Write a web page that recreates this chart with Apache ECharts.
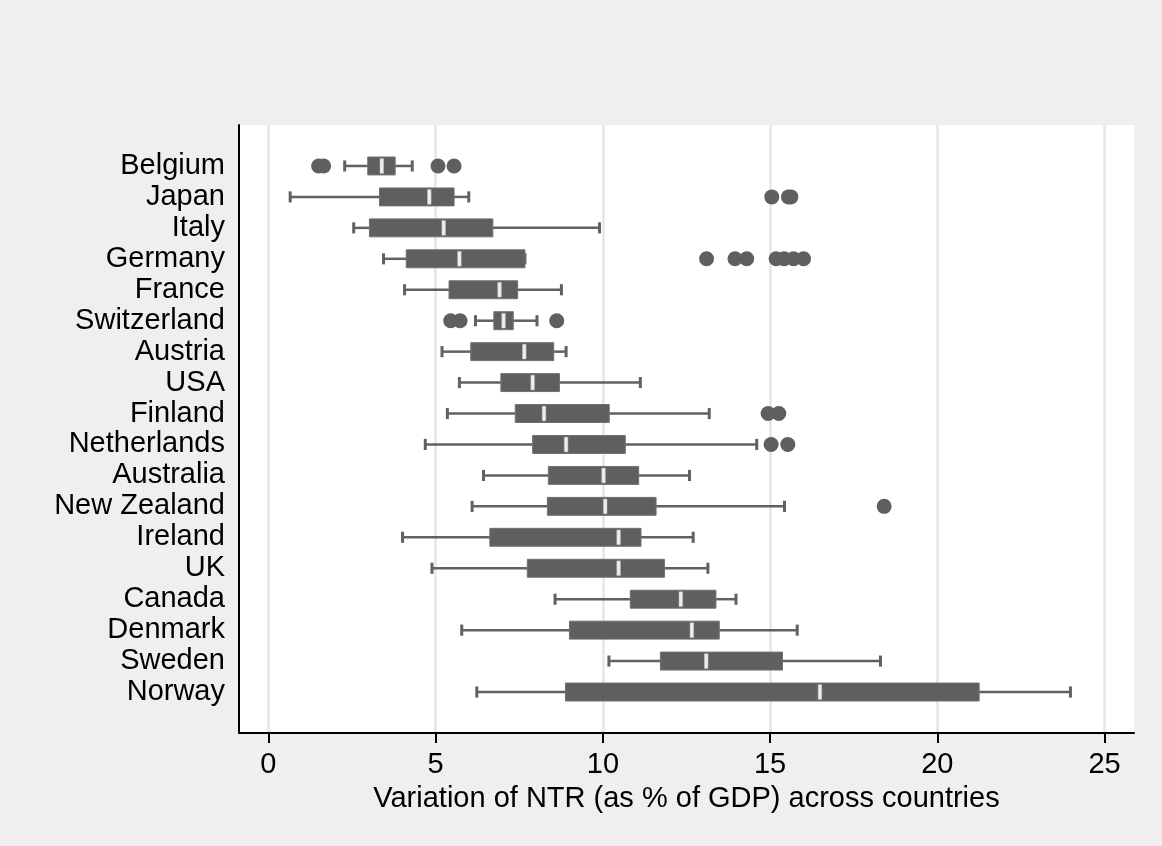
<!DOCTYPE html>
<html>
<head>
<meta charset="utf-8">
<script src="https://cdn.jsdelivr.net/npm/echarts@6/dist/echarts.min.js"></script>
<style>
html,body{margin:0;padding:0;background:#efefef;}
#chart{width:1162px;height:846px;}
</style>
</head>
<body>
<div id="chart"></div>
<script>
const countries = ['Belgium','Japan','Italy','Germany','France','Switzerland','Austria','USA','Finland','Netherlands','Australia','New Zealand','Ireland','UK','Canada','Denmark','Sweden','Norway'];
const whiskerLow  = [2.28, 0.65, 2.55, 3.44, 4.07, 6.19, 5.19, 5.71, 5.35, 4.69, 6.43, 6.09, 4.01, 4.89, 8.57, 5.78, 10.18, 6.23];
const q1          = [2.97, 3.32, 3.02, 4.12, 5.40, 6.74, 6.05, 6.95, 7.38, 7.90, 8.37, 8.34, 6.62, 7.74, 10.82, 9.00, 11.72, 8.88];
const median      = [3.39, 4.81, 5.24, 5.71, 6.91, 7.03, 7.65, 7.90, 8.24, 8.90, 10.02, 10.07, 10.47, 10.47, 12.33, 12.66, 13.09, 16.49];
const q3          = [3.79, 5.55, 6.71, 7.67, 7.45, 7.32, 8.53, 8.70, 10.19, 10.67, 11.07, 11.59, 11.14, 11.84, 13.38, 13.48, 15.37, 21.25];
const whiskerHigh = [4.30, 5.99, 9.90, 7.67, 8.76, 8.03, 8.90, 11.12, 13.18, 14.60, 12.59, 15.43, 12.70, 13.14, 13.98, 15.81, 18.30, 23.98];
const outlierCountry = ['Belgium','Belgium','Belgium','Belgium','Japan','Japan','Japan','Germany','Germany','Germany','Germany','Germany','Germany','Germany','Switzerland','Switzerland','Switzerland','Finland','Finland','Netherlands','Netherlands','New Zealand'];
const outlierValue   = [1.50, 1.65, 5.07, 5.55, 15.05, 15.55, 15.62, 13.10, 13.95, 14.30, 15.18, 15.42, 15.70, 16.00, 5.45, 5.73, 8.62, 14.94, 15.26, 15.03, 15.53, 18.41];
const xTicks = [0, 5, 10, 15, 20, 25];
const xTitle = 'Variation of NTR (as % of GDP) across countries';

const boxData = countries.map((c, i) => [i, whiskerLow[i], q1[i], median[i], q3[i], whiskerHigh[i]]);
const outData = outlierCountry.map((c, k) => [outlierValue[k], countries.indexOf(c)]);

const FONT = '"Liberation Sans", Arial, Helvetica, sans-serif';
const BOX = '#5f5f5f';

function renderBox(params, api) {
  const i = api.value(0);
  const lo = api.coord([api.value(1), i]);
  const a = api.coord([api.value(2), i]);
  const m = api.coord([api.value(3), i]);
  const b = api.coord([api.value(4), i]);
  const hi = api.coord([api.value(5), i]);
  const band = api.size([0, 1])[1];
  const bh = band * 0.58;
  const ch = band * 0.36;
  const mh = bh * 0.82;
  const y = m[1];
  const lineStyle = {stroke: '#616161', lineWidth: 2.5};
  return {
    type: 'group',
    children: [
      {type: 'line', shape: {x1: lo[0], y1: y, x2: a[0], y2: y}, style: lineStyle},
      {type: 'line', shape: {x1: b[0], y1: y, x2: hi[0], y2: y}, style: lineStyle},
      {type: 'line', shape: {x1: lo[0], y1: y - ch / 2, x2: lo[0], y2: y + ch / 2}, style: {stroke: '#616161', lineWidth: 3}},
      {type: 'line', shape: {x1: hi[0], y1: y - ch / 2, x2: hi[0], y2: y + ch / 2}, style: {stroke: '#616161', lineWidth: 3}},
      {type: 'rect', shape: {x: a[0], y: y - bh / 2, width: b[0] - a[0], height: bh}, style: {fill: BOX, stroke: '#707070', lineWidth: 1}},
      {type: 'rect', shape: {x: m[0] - 1.8, y: y - mh / 2, width: 3.6, height: mh}, style: {fill: '#eeeeee', stroke: '#bdbdbd', lineWidth: 0.5}}
    ]
  };
}

const chart = echarts.init(document.getElementById('chart'), null, {renderer: 'canvas'});
chart.setOption({
  backgroundColor: '#efefef',
  animation: false,
  textStyle: {fontFamily: FONT},
  grid: [
    {left: 239, right: 28, top: 125, bottom: 113, show: true, backgroundColor: '#ffffff', borderWidth: 0},
    {left: 239, right: 28, top: 150.5, bottom: 138.5, containLabel: false}
  ],
  xAxis: [
    {
      gridIndex: 0, type: 'value', min: -0.88, max: 25.88,
      axisLine: {show: true, onZero: false, lineStyle: {color: '#000', width: 2}},
      axisTick: {show: true, customValues: xTicks, length: 10, lineStyle: {color: '#000', width: 2}},
      axisLabel: {customValues: xTicks, color: '#000', fontSize: 29, fontFamily: FONT, margin: 17},
      splitLine: {show: true, lineStyle: {color: '#e6e6e6', width: 2.5}},
      name: xTitle, nameLocation: 'middle', nameGap: 51,
      nameTextStyle: {color: '#000', fontSize: 29, fontFamily: FONT}
    },
    {gridIndex: 1, type: 'value', min: -0.88, max: 25.88, show: false, splitLine: {show: false}}
  ],
  yAxis: [
    {gridIndex: 0, type: 'value', min: 0, max: 1,
      axisLine: {show: true, onZero: false, lineStyle: {color: '#000', width: 2}},
      axisTick: {show: false}, axisLabel: {show: false}, splitLine: {show: false}},
    {gridIndex: 1, type: 'category', data: countries, inverse: true,
      axisLine: {show: false}, axisTick: {show: false}, splitLine: {show: false},
      axisLabel: {interval: 0, color: '#000', fontSize: 29, fontFamily: FONT, margin: 14, padding: [5, 0, 0, 0]}}
  ],
  series: [
    {
      type: 'custom', xAxisIndex: 1, yAxisIndex: 1,
      renderItem: renderBox,
      encode: {x: [1, 2, 3, 4, 5], y: 0},
      data: boxData, z: 3, silent: true
    },
    {
      type: 'scatter', xAxisIndex: 1, yAxisIndex: 1,
      data: outData, symbol: 'circle', symbolSize: 15,
      itemStyle: {color: BOX, opacity: 1}, z: 4, silent: true
    }
  ]
});
</script>
</body>
</html>
